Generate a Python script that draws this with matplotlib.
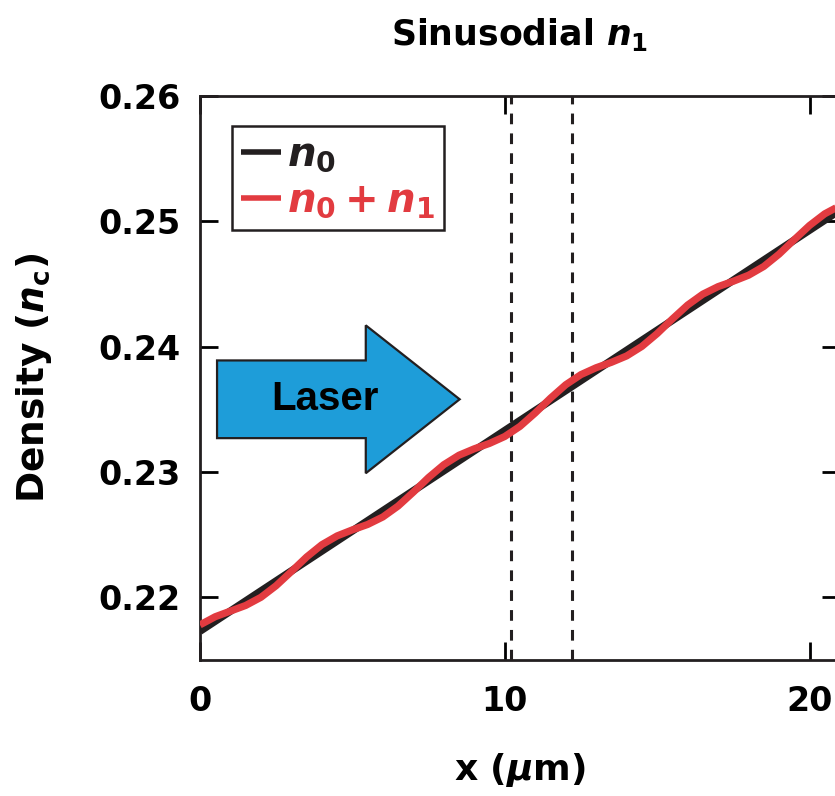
import numpy as np
import matplotlib
matplotlib.use("Agg")
import matplotlib.pyplot as plt
from matplotlib.patches import Polygon

plt.rcParams['font.family'] = ['DejaVu Sans']
plt.rcParams['font.weight'] = 'bold'
plt.rcParams['mathtext.fontset'] = 'custom'
plt.rcParams['mathtext.rm'] = 'DejaVu Sans:bold'
plt.rcParams['mathtext.it'] = 'DejaVu Sans:italic:bold'
plt.rcParams['mathtext.bf'] = 'DejaVu Sans:bold'

# background density n0 (linear ramp), end points
n0_x = [0.0, 21.0]
n0_val = [0.2173, 0.2509]

# sinusoidal perturbation n1, sampled every 0.5 um (units of 1e-4 nc)
x = np.arange(0, 21.01, 0.5)
n1 = [5.0, 3.5, 0.0, -3.5, -5.0, -3.7, -0.4, 3.2, 5.0, 4.0, 0.8,
      -2.9, -4.9, -4.2, -1.1, 2.6, 4.8, 4.4, 1.5, -2.2, -4.7, -4.6,
      -1.9, 1.9, 4.6, 4.7, 2.2, -1.5, -4.4, -4.8, -2.6, 1.1, 4.2,
      4.9, 2.9, -0.8, -4.0, -5.0, -3.2, 0.4, 3.7, 5.0, 3.5]

# dashed markers
vlines_x = [10.2, 12.2]

# laser arrow outline (x in um, y in nc)
arrow_x = [0.56, 5.44, 5.44, 8.52, 5.44, 5.44, 0.56]
arrow_y = [0.2389, 0.2389, 0.2417, 0.2358, 0.2299, 0.2327, 0.2327]

black = '#231f20'
red = '#e23b40'

n0_grid = np.interp(x, n0_x, n0_val)
n_tot = n0_grid + np.array(n1) * 1e-4

fig = plt.figure(figsize=(8.35, 7.96), dpi=100)
ax = fig.add_axes([0.2395, 0.1709, 0.7665, 0.7085])

ax.add_patch(Polygon(np.column_stack([arrow_x, arrow_y]), closed=True,
                     facecolor='#1e9dd9', edgecolor=black, lw=1.6, zorder=2))
ax.text(4.1, 0.2358, 'Laser', ha='center', va='center', fontsize=29,
        fontweight='bold', color='black', family='Liberation Sans', zorder=3)

for xv in vlines_x:
    ax.axvline(xv, color=black, lw=2.2, ls=(0, (3.5, 3)), zorder=1)

ax.plot(n0_x, n0_val, color=black, lw=5.5, solid_capstyle='butt',
        label=r'$n_0$', zorder=4)
ax.plot(x, n_tot, color=red, lw=5.2, solid_capstyle='butt',
        label=r'$n_0+n_1$', zorder=5)

ax.set_xlim(0, 21)
ax.set_ylim(0.215, 0.26)
ax.set_xticks([0, 10, 20])
ax.set_yticks([0.22, 0.23, 0.24, 0.25, 0.26])
ax.set_yticklabels(['0.22', '0.23', '0.24', '0.25', '0.26'])
ax.tick_params(direction='in', length=13, width=2, labelsize=24,
               top=True, right=True)
ax.tick_params(axis='x', pad=18)
ax.tick_params(axis='y', pad=14)
for lab in ax.get_xticklabels() + ax.get_yticklabels():
    lab.set_fontweight('bold')
for sp in ax.spines.values():
    sp.set_linewidth(2)
    sp.set_color(black)

ax.set_xlabel(r'x ($\mu$m)', fontsize=26, fontweight='bold', labelpad=24)
ax.set_ylabel(r'Density ($n_\mathrm{c}$)', fontsize=27, fontweight='bold',
              labelpad=32)
ax.set_title(r'Sinusodial $n_1$', fontsize=25, fontweight='bold', pad=37)

leg = ax.legend(loc='upper left', bbox_to_anchor=(0.05, 0.947),
                borderaxespad=0, fontsize=29, handlelength=1.0,
                handletextpad=0.15, labelspacing=0.15, borderpad=0.22,
                fancybox=False, framealpha=1, edgecolor=black,
                labelcolor='linecolor')
leg.get_frame().set_linewidth(1.8)
for h in leg.get_lines():
    h.set_linewidth(4)

fig.savefig('out.png', dpi=100)
